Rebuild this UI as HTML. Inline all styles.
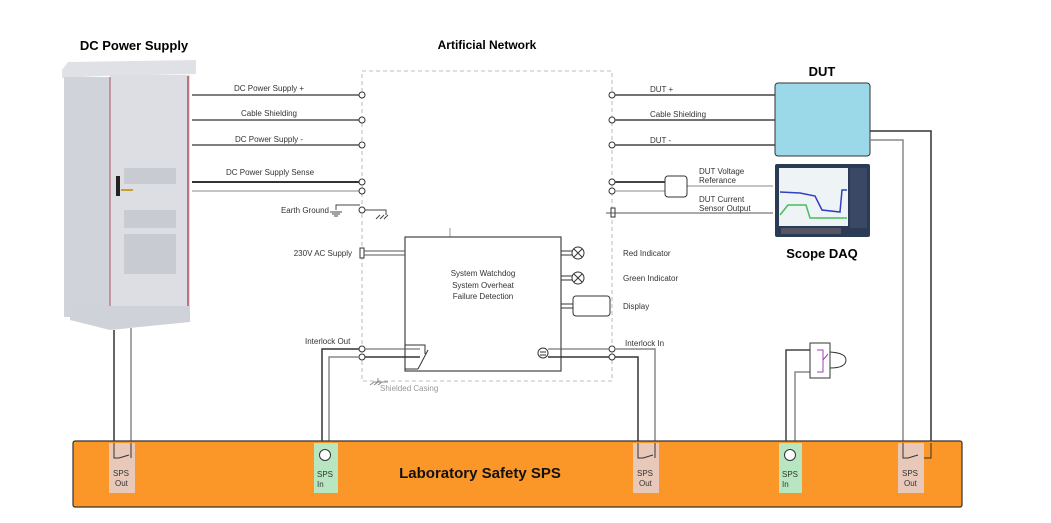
<!DOCTYPE html>
<html><head><meta charset="utf-8"><style>
html,body{margin:0;padding:0;background:#fff;width:1051px;height:523px;overflow:hidden}
svg{display:block;font-family:"Liberation Sans",sans-serif}
.s{font-size:8px;fill:#333}
</style></head><body>
<svg width="1051" height="523" viewBox="0 0 1051 523" xmlns="http://www.w3.org/2000/svg">
<!-- titles -->
<text x="134" y="50" font-size="13" font-weight="bold" text-anchor="middle">DC Power Supply</text>
<text x="487" y="49" font-size="12" font-weight="bold" text-anchor="middle">Artificial Network</text>
<text x="822" y="76" font-size="13" font-weight="bold" text-anchor="middle">DUT</text>
<text x="822" y="258" font-size="13" font-weight="bold" text-anchor="middle">Scope DAQ</text>

<!-- cabinet -->
<polygon points="62,70 68,62 196,60 196,74 100,76 62,78" fill="#dfe1e6"/>
<rect x="64" y="77" width="46" height="240" fill="#d0d3da"/>
<rect x="110" y="75" width="80" height="232" fill="#dcdee3"/>
<line x1="110" y1="77" x2="110" y2="316" stroke="#b05060" stroke-width="1"/>
<line x1="188" y1="76" x2="188" y2="306" stroke="#b05060" stroke-width="1.5"/>
<polygon points="70,306 190,306 190,322 110,330 70,320" fill="#cfd2d8"/>
<rect x="116" y="176" width="4" height="20" fill="#222"/>
<rect x="121" y="189" width="12" height="2" fill="#c9a030"/>
<g fill="#c8cbd2">
<rect x="124" y="168" width="52" height="16"/>
<rect x="124" y="210" width="52" height="18"/>
<rect x="124" y="234" width="52" height="40"/>
</g>

<!-- dashed box -->
<rect x="362" y="71" width="250" height="310" fill="none" stroke="#aaa" stroke-dasharray="4,3" stroke-width="0.8"/>

<!-- left wires -->
<g stroke="#555" stroke-width="1.5" fill="none">
<line x1="192" y1="95" x2="360" y2="95"/>
<line x1="192" y1="120" x2="360" y2="120"/>
<line x1="192" y1="145" x2="360" y2="145"/>
<line x1="192" y1="182" x2="360" y2="182" stroke="#333" stroke-width="2"/>
<line x1="192" y1="191" x2="360" y2="191" stroke="#888" stroke-width="1"/>
</g>
<text class="s" x="269" y="91" text-anchor="middle">DC Power Supply +</text>
<text class="s" x="269" y="116" text-anchor="middle">Cable Shielding</text>
<text class="s" x="269" y="142" text-anchor="middle">DC Power Supply -</text>
<text class="s" x="270" y="175" text-anchor="middle">DC Power Supply Sense</text>
<text class="s" x="329" y="213" text-anchor="end">Earth Ground</text>
<g stroke="#444" fill="none" stroke-width="1">
<path d="M336,210 L336,205 L360,205"/>
<line x1="330" y1="212" x2="342" y2="212"/><line x1="332" y1="214" x2="340" y2="214"/><line x1="334" y1="216" x2="338" y2="216"/>
<path d="M365,210 L386,210 L386,215"/>
<line x1="376" y1="219" x2="380" y2="215"/><line x1="380" y1="219" x2="384" y2="215"/><line x1="384" y1="219" x2="388" y2="215"/>
</g>
<g fill="#fff" stroke="#333" stroke-width="1">
<circle cx="362" cy="95" r="3"/><circle cx="362" cy="120" r="3"/><circle cx="362" cy="145" r="3"/>
<circle cx="362" cy="182" r="3"/><circle cx="362" cy="191" r="3"/><circle cx="362" cy="210" r="3"/>
<circle cx="612" cy="95" r="3"/><circle cx="612" cy="120" r="3"/><circle cx="612" cy="145" r="3"/>
<circle cx="612" cy="182" r="3"/><circle cx="612" cy="191" r="3"/>
<rect x="611" y="208" width="4" height="9"/>
<circle cx="362" cy="349" r="3"/><circle cx="362" cy="357" r="3"/>
<circle cx="612" cy="349" r="3"/><circle cx="612" cy="357" r="3"/>
</g>

<!-- right wires -->
<g stroke="#444" stroke-width="1.5" fill="none">
<line x1="615" y1="95" x2="775" y2="95"/>
<line x1="615" y1="120" x2="775" y2="120"/>
<line x1="615" y1="145" x2="775" y2="145"/>
<line x1="615" y1="182" x2="665" y2="182" stroke-width="2"/>
<line x1="615" y1="191" x2="665" y2="191" stroke="#888" stroke-width="1"/>
<line x1="686" y1="186" x2="773" y2="186" stroke="#888" stroke-width="1"/>
<line x1="606" y1="213" x2="773" y2="213" stroke="#555" stroke-width="1"/>
</g>
<rect x="665" y="176" width="22" height="21" rx="3" fill="#fff" stroke="#333"/>
<text class="s" x="650" y="92">DUT +</text>
<text class="s" x="650" y="117">Cable Shielding</text>
<text class="s" x="650" y="143">DUT -</text>
<text class="s" x="699" y="174">DUT Voltage</text>
<text class="s" x="699" y="183">Referance</text>
<text class="s" x="699" y="202">DUT Current</text>
<text class="s" x="699" y="211">Sensor Output</text>

<!-- DUT -->
<rect x="775" y="83" width="95" height="73" rx="3" fill="#9bd8e8" stroke="#333"/>
<path d="M870,131 L931,131 L931,441" stroke="#333" stroke-width="1.5" fill="none"/>
<path d="M870,140 L903,140 L903,441" stroke="#888" stroke-width="1.5" fill="none"/>

<!-- scope -->
<rect x="775" y="164" width="95" height="73" rx="2" fill="#2b3a55"/>
<rect x="779" y="168" width="69" height="58" fill="#eef3f5"/>
<polyline points="780,192 800,193 815,196 822,210 840,212 842,190 847,190" stroke="#3040c0" stroke-width="1.5" fill="none"/>
<polyline points="780,215 788,205 806,205 810,218 847,218" stroke="#40c060" stroke-width="1.5" fill="none"/>
<rect x="850" y="168" width="17" height="60" fill="#3a4866"/>
<rect x="781" y="228" width="60" height="6" fill="#556"/>

<!-- inner box -->
<line x1="450" y1="228" x2="450" y2="237" stroke="#999"/>
<rect x="405" y="237" width="156" height="134" fill="#fff" stroke="#444" stroke-width="1.2"/>
<text class="s" x="483" y="276" text-anchor="middle">System Watchdog</text>
<text class="s" x="483" y="288" text-anchor="middle">System Overheat</text>
<text class="s" x="483" y="299" text-anchor="middle">Failure Detection</text>
<rect x="360" y="248" width="4" height="10" fill="#fff" stroke="#333"/>
<line x1="364" y1="251" x2="405" y2="251" stroke="#555"/><line x1="364" y1="255" x2="405" y2="255" stroke="#555"/>
<text class="s" x="352" y="256" text-anchor="end">230V AC Supply</text>
<g stroke="#333" fill="#fff">
<line x1="561" y1="251" x2="572" y2="251"/><line x1="561" y1="255" x2="572" y2="255"/>
<circle cx="578" cy="253" r="6"/><path d="M574,249 L582,257 M582,249 L574,257"/>
<line x1="561" y1="276" x2="572" y2="276"/><line x1="561" y1="280" x2="572" y2="280"/>
<circle cx="578" cy="278" r="6"/><path d="M574,274 L582,282 M582,274 L574,282"/>
<line x1="561" y1="304" x2="573" y2="304"/><line x1="561" y1="308" x2="573" y2="308"/>
<rect x="573" y="296" width="37" height="20" rx="3"/>
<circle cx="543" cy="353" r="5"/>
</g>
<line x1="540" y1="352" x2="546" y2="352" stroke="#333"/><line x1="540" y1="355" x2="546" y2="355" stroke="#333"/>
<text class="s" x="623" y="256">Red Indicator</text>
<text class="s" x="623" y="281">Green Indicator</text>
<text class="s" x="623" y="309">Display</text>
<path d="M405,345 L425,345 L425,354 M418,369 L405,369" stroke="#333" fill="none"/>
<path d="M418,369 L428,350" stroke="#333"/>

<!-- interlock wires -->
<g fill="none" stroke-width="1.5">
<path d="M359,349 L322,349 L322,441" stroke="#333"/>
<path d="M359,357 L329,357 L329,441" stroke="#888"/>
<line x1="365" y1="349" x2="420" y2="349" stroke="#555" stroke-width="1"/>
<line x1="365" y1="357" x2="420" y2="357" stroke="#333"/>
<line x1="548" y1="349" x2="609" y2="349" stroke="#555" stroke-width="1"/>
<line x1="548" y1="357" x2="609" y2="357" stroke="#333"/>
<path d="M615,349 L655,349 L655,441" stroke="#888"/>
<path d="M615,357 L638,357 L638,441" stroke="#333"/>
<line x1="114" y1="330" x2="114" y2="441" stroke="#333"/>
<line x1="131" y1="328" x2="131" y2="441" stroke="#888"/>
<path d="M810,350 L786,350 L786,441" stroke="#444"/>
<path d="M810,372 L795,372 L795,441" stroke="#888"/>
</g>
<text class="s" x="305" y="344">Interlock Out</text>
<text class="s" x="625" y="346">Interlock In</text>
<rect x="810" y="343" width="20" height="35" fill="#fff" stroke="#333"/>
<path d="M817,350 L823,350 L823,372 L817,372 M823,360 L828,354" stroke="#a040b0" fill="none"/>
<path d="M830,352 Q846,353 846,360 Q846,368 830,368 Z" fill="#fff" stroke="#333"/>
<text x="380" y="391" font-size="8" fill="#999">Shielded Casing</text>
<path d="M370,385 L374,382 M374,385 L378,382 M378,385 L382,382 M374,382 L388,382 M378,378 L378,382" stroke="#888" fill="none"/>

<!-- SPS bar -->
<rect x="73" y="441" width="889" height="66" rx="2" fill="#fb9628" stroke="#333" stroke-width="1.2"/>
<g font-size="8" fill="#333">
<rect x="109" y="443" width="26" height="50" fill="#e8c8b8"/>
<text x="113" y="476">SPS</text><text x="115" y="486">Out</text>
<rect x="314" y="443" width="24" height="50" fill="#b8e6c0"/>
<text x="317" y="477">SPS</text><text x="317" y="487">In</text>
<rect x="633" y="443" width="26" height="50" fill="#e8c8b8"/>
<text x="637" y="476">SPS</text><text x="639" y="486">Out</text>
<rect x="779" y="443" width="23" height="50" fill="#b8e6c0"/>
<text x="782" y="477">SPS</text><text x="782" y="487">In</text>
<rect x="898" y="443" width="26" height="50" fill="#e8c8b8"/>
<text x="902" y="476">SPS</text><text x="904" y="486">Out</text>
</g>
<g stroke="#333" fill="none">
<path d="M114,443 L114,458 L119,458 L129,455 M131,443 L131,458"/>
<path d="M638,443 L638,458 L643,458 L653,455 M655,443 L655,458"/>
<path d="M903,443 L903,458 L908,458 L918,455 M931,443 L931,458 L924,458"/>
</g>
<circle cx="325" cy="455" r="5.5" fill="#fff" stroke="#333"/>
<circle cx="790" cy="455" r="5.5" fill="#fff" stroke="#333"/>
<text x="480" y="478" font-size="15" font-weight="bold" text-anchor="middle" fill="#111">Laboratory Safety SPS</text>
</svg>
</body></html>
